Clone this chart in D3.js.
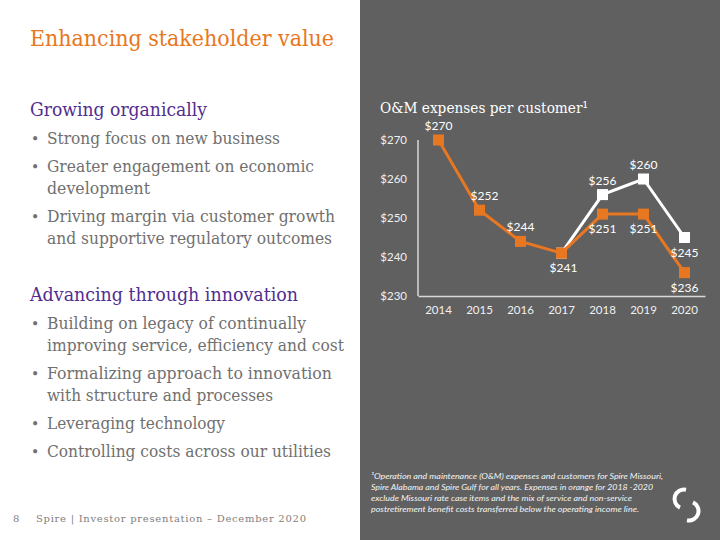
<!DOCTYPE html>
<html><head><meta charset="utf-8">
<script src="https://cdn.jsdelivr.net/npm/d3@7"></script>
<style>html,body{margin:0;padding:0;background:#fff}svg{display:block}</style>
</head><body>
<script>
const years = ["2014","2015","2016","2017","2018","2019","2020"];
const orangeValues = [270,252,244,241,251,251,236];
const whiteYears = ["2017","2018","2019","2020"];
const whiteValues = [241,256,260,245];
const yTicks = [230,240,250,260,270];
const orangeLabelSide = ["above","above","above","below","below","below","below"];
const whiteLabelSide = [null,"above","above","below"];

const W=720,H=540;
const svg=d3.select("body").append("svg").attr("width",W).attr("height",H);
svg.append("rect").attr("width",W).attr("height",H).attr("fill","#ffffff");
svg.append("rect").attr("x",360).attr("y",0).attr("width",360).attr("height",H).attr("fill","#606060");

const ORANGE="#E87722", PURPLE="#512D8F", GRAY="#707070";
const serif="'DejaVu Serif', serif";

function line(txt,x,y,size,color,len){
  const t=svg.append("text").attr("x",x).attr("y",y).attr("font-family",serif)
    .attr("font-size",size).attr("fill",color).text(txt);
  if(len) t.attr("textLength",len).attr("lengthAdjust","spacingAndGlyphs");
  return t;
}
line("Enhancing stakeholder value",30,46,22,ORANGE,304);
line("Growing organically",30,116,18.5,PURPLE,177);
line("Advancing through innovation",30,301,18.5,PURPLE,268);
const bullets=[
  [["Strong focus on new business",233]],
  [["Greater engagement on economic",267],["development",103]],
  [["Driving margin via customer growth",288],["and supportive regulatory outcomes",285]]
];
const bullets2=[
  [["Building on legacy of continually",259],["improving service, efficiency and cost",297]],
  [["Formalizing approach to innovation",285],["with structure and processes",226]],
  [["Leveraging technology",178]],
  [["Controlling costs across our utilities",284]]
];
function drawBullets(list,y0){
  let y=y0;
  list.forEach(b=>{
    svg.append("text").attr("x",31).attr("y",y).attr("font-family",serif).attr("font-size",14).attr("fill",GRAY).text("•");
    b.forEach(([t,l])=>{line(t,47,y,16,GRAY,l); y+=22;});
    y+=6;
  });
}
drawBullets(bullets,144);
drawBullets(bullets2,329);

svg.append("text").attr("x",13).attr("y",522).attr("font-family",serif).attr("font-size",10).attr("fill","#808080").text("8");
svg.append("text").attr("x",36).attr("y",522).attr("font-family",serif).attr("font-size",10).attr("fill","#808080")
  .attr("textLength",270).attr("lengthAdjust","spacing").text("Spire | Investor presentation – December 2020");

const x=d3.scaleBand().domain(years).range([418,705]).padding(0);
const cx=d=>x(d)+x.bandwidth()/2;
const y=d3.scaleLinear().domain([230,270]).range([296,140]);

svg.append("text").attr("x",380).attr("y",113).attr("font-family",serif).attr("font-size",15.5).attr("fill","#ffffff")
  .attr("textLength",208).attr("lengthAdjust","spacingAndGlyphs").text("O&M expenses per customer¹");

const sans="Lato, 'Open Sans', sans-serif";
const yAxis=svg.append("g").attr("transform","translate(418,0)")
  .call(d3.axisLeft(y).tickValues(yTicks).tickSize(0).tickPadding(11).tickFormat(d=>"$"+d));
const xAxis=svg.append("g").attr("transform","translate(0,296)")
  .call(d3.axisBottom(x).tickSize(0).tickPadding(10));
[yAxis,xAxis].forEach(g=>{
  g.selectAll("text").attr("font-family",sans).attr("font-size",11.5).attr("fill","#f0f0f0");
  g.select(".domain").attr("stroke","#d9d9d9").attr("stroke-width",1.5);
});
yAxis.select(".domain").attr("d","M0,140V296");

const lineGen=d3.line().x(d=>cx(d.yr)).y(d=>y(d.v));
const whiteData=whiteYears.map((yr,i)=>({yr,v:whiteValues[i],side:whiteLabelSide[i]}));
const orangeData=years.map((yr,i)=>({yr,v:orangeValues[i],side:orangeLabelSide[i]}));

function series(data,color){
  svg.append("path").datum(data).attr("d",lineGen).attr("fill","none").attr("stroke",color).attr("stroke-width",3);
  svg.selectAll(null).data(data).enter().append("rect")
    .attr("x",d=>cx(d.yr)-5.5).attr("y",d=>y(d.v)-5.5).attr("width",11).attr("height",11).attr("fill",color);
}
function labels(data){
  svg.selectAll(null).data(data.filter(d=>d.side)).enter().append("text")
    .attr("x",d=>cx(d.yr)+(d.yr==="2015"?5:(d.yr==="2017"?2:0)))
    .attr("y",d=>d.side==="above"?y(d.v)-10:y(d.v)+19)
    .attr("text-anchor","middle").attr("font-family",sans).attr("font-size",12).attr("fill","#ffffff")
    .text(d=>"$"+d.v);
}
series(whiteData,"#ffffff");
series(orangeData,ORANGE);
labels(whiteData);
labels(orangeData);

const notes=[
  ["¹Operation and maintenance (O&M) expenses and customers for Spire Missouri,",292],
  ["Spire Alabama and Spire Gulf for all years. Expenses in orange for 2018 -2020",282],
  ["exclude Missouri rate case items and the mix of service and non-service",261],
  ["postretirement benefit costs transferred below the operating income line.",268]
];
notes.forEach(([t,l],i)=>{
  svg.append("text").attr("x",371).attr("y",479+i*11).attr("font-family",sans).attr("font-style","italic")
    .attr("font-size",8).attr("fill","#f4f4f4").attr("textLength",l).attr("lengthAdjust","spacingAndGlyphs").text(t);
});

const arc=d3.arc();
svg.append("path").attr("transform","translate(684,499)")
  .attr("d",arc({innerRadius:7.5,outerRadius:11.5,startAngle:205*Math.PI/180,endAngle:372*Math.PI/180})).attr("fill","#ffffff");
svg.append("path").attr("transform","translate(689,511)")
  .attr("d",arc({innerRadius:7.5,outerRadius:11.5,startAngle:25*Math.PI/180,endAngle:192*Math.PI/180})).attr("fill","#ffffff");
</script>
</body></html>
